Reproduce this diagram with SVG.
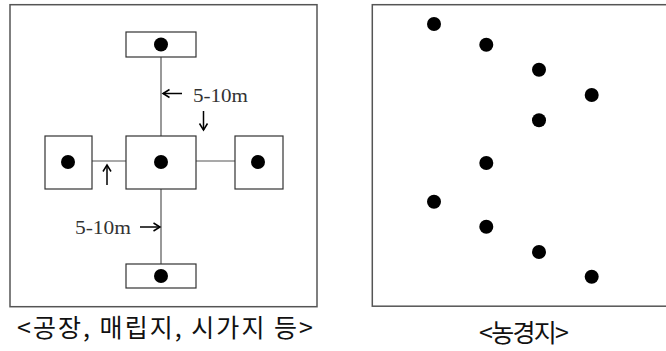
<svg xmlns="http://www.w3.org/2000/svg" width="666" height="351" viewBox="0 0 666 351">
<defs>
<marker id="ah" markerWidth="12" markerHeight="12" refX="9" refY="6" orient="auto" markerUnits="userSpaceOnUse">
<path d="M2.5,2 L9,6 L2.5,10" fill="none" stroke="#000" stroke-width="1.5"/>
</marker>
<style>
.frame{fill:#fff;stroke:#555;stroke-width:1.5}
.box{fill:#fff;stroke:#333;stroke-width:1.2}
.dot{fill:#000}
.conn{stroke:#555;stroke-width:1.2;fill:none}
.arr{stroke:#000;stroke-width:1.5;fill:none;marker-end:url(#ah)}
.lbl{font-family:"Liberation Serif","DejaVu Serif",serif;font-size:18px;fill:#333}
.cap{font-family:"Noto Sans CJK KR","Noto Sans",sans-serif;font-size:25px;font-weight:normal;fill:#111}
</style>
</defs>
<rect width="666" height="351" fill="#fff"/>
<g id="frame-left"><rect class="frame" x="10" y="4.7" width="307" height="302"/></g>
<g id="frame-right"><rect class="frame" x="372.3" y="4.7" width="310" height="301.5"/></g>
<g id="connectors">
<line class="conn" x1="161" y1="57" x2="161" y2="136"/>
<line class="conn" x1="161" y1="189" x2="161" y2="264"/>
<line class="conn" x1="92" y1="161" x2="126" y2="161"/>
<line class="conn" x1="196" y1="161" x2="235" y2="161"/>
</g>
<g id="box-top"><rect class="box" x="126" y="32" width="70" height="25"/><circle class="dot" cx="161" cy="44.5" r="7"/></g>
<g id="box-center"><rect class="box" x="126" y="136" width="70" height="53"/><circle class="dot" cx="161" cy="162" r="7"/></g>
<g id="box-left"><rect class="box" x="45" y="136" width="47" height="53"/><circle class="dot" cx="68" cy="162" r="7"/></g>
<g id="box-right"><rect class="box" x="235" y="136" width="48" height="53"/><circle class="dot" cx="258" cy="162" r="7"/></g>
<g id="box-bottom"><rect class="box" x="126" y="264" width="70" height="24"/><circle class="dot" cx="161" cy="276" r="7"/></g>
<g id="annotations">
<line class="arr" x1="182" y1="93.5" x2="163" y2="93.5"/>
<line class="arr" x1="203.5" y1="111" x2="203.5" y2="130"/>
<line class="arr" x1="107" y1="185" x2="107" y2="165"/>
<line class="arr" x1="140" y1="227" x2="160" y2="227"/>
<text class="lbl" x="193" y="101.5" textLength="55" lengthAdjust="spacingAndGlyphs">5-10m</text>
<text class="lbl" x="75" y="233.5" textLength="56" lengthAdjust="spacingAndGlyphs">5-10m</text>
</g>
<g id="dots-right">
<circle class="dot" cx="434" cy="24" r="7"/>
<circle class="dot" cx="486.3" cy="44.7" r="7"/>
<circle class="dot" cx="539" cy="69.7" r="7"/>
<circle class="dot" cx="591.7" cy="95" r="7"/>
<circle class="dot" cx="539" cy="120.3" r="7"/>
<circle class="dot" cx="486.3" cy="163" r="7"/>
<circle class="dot" cx="434" cy="201.7" r="7"/>
<circle class="dot" cx="486.3" cy="226.7" r="7"/>
<circle class="dot" cx="539" cy="252" r="7"/>
<circle class="dot" cx="591.7" cy="276.7" r="7"/>
</g>
<g id="captions">
<text class="cap" x="17" y="337" textLength="296" lengthAdjust="spacing">&lt;공장, 매립지, 시가지 등&gt;</text>
<text class="cap" x="479" y="341.5" textLength="90" lengthAdjust="spacing">&lt;농경지&gt;</text>
</g>
</svg>
